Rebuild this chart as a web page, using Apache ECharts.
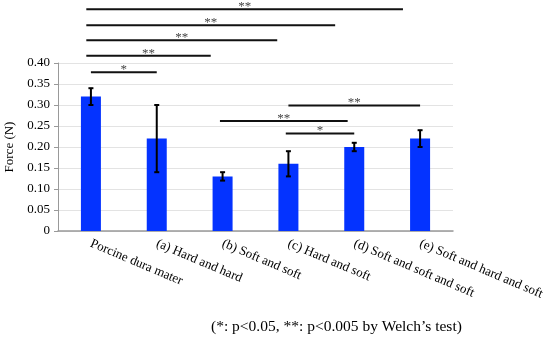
<!DOCTYPE html>
<html>
<head>
<meta charset="utf-8">
<script src="https://cdn.jsdelivr.net/npm/echarts@6/dist/echarts.min.js"></script>
<style>
html,body{margin:0;padding:0;background:#fff;}
#chart{width:550px;height:337px;}
</style>
</head>
<body>
<div id="chart"></div>
<script>
const categories = ['Porcine dura mater', '(a) Hard and hard', '(b) Soft and soft', '(c) Hard and soft', '(d) Soft and soft and soft', '(e) Soft and hard and soft'];
const forces = [0.32, 0.22, 0.13, 0.16, 0.20, 0.22];
const errLow = [0.30, 0.14, 0.12, 0.13, 0.19, 0.20];
const errHigh = [0.34, 0.30, 0.14, 0.19, 0.21, 0.24];
const yMin = 0, yMax = 0.40, yStep = 0.05;
// significance brackets (category index span, height in N, mark)
const bracketFrom = [-0.07, -0.07, -0.07, -0.07, 0, 3, 1.96, 2.96];
const bracketTo = [4.74, 3.71, 2.83, 1.82, 1, 5, 3.9, 4.0];
const bracketLevel = [0.528, 0.490, 0.454, 0.417, 0.378, 0.299, 0.262, 0.232];
const bracketMark = ['**', '**', '**', '**', '*', '**', '**', '*'];
const footnote = '(*: p<0.05, **: p<0.005 by Welch\u2019s test)';

const FONT = 'Liberation Serif';
const chart = echarts.init(document.getElementById('chart'), null, {renderer: 'canvas'});

const errData = categories.map((c, i) => [i, errLow[i], errHigh[i]]);
const brData = bracketFrom.map((f, i) => [f, bracketTo[i], bracketLevel[i], i]);

chart.setOption({
  animation: false,
  title: {
    text: footnote,
    left: 206,
    top: 314,
    textStyle: {fontFamily: FONT, fontSize: 15.5, fontWeight: 'normal', color: '#000'}
  },
  grid: {left: 58, right: 97, top: 63, bottom: 106, containLabel: false, outerBoundsMode: 'none'},
  xAxis: [{
    type: 'category',
    data: categories,
    axisLine: {onZero: false, lineStyle: {color: '#999', width: 1.5}},
    axisTick: {show: false},
    axisLabel: {rotate: -23, margin: 12, interval: 0, fontFamily: FONT, fontSize: 13, color: '#000'}
  }, {
    type: 'value', min: -0.5, max: 5.5, show: false,
    axisLine: {show: false, onZero: false}, axisTick: {show: false}, axisLabel: {show: false}, splitLine: {show: false}
  }],
  yAxis: {
    type: 'value',
    min: yMin, max: yMax, interval: yStep,
    name: 'Force (N)',
    nameLocation: 'middle',
    nameGap: 42,
    nameTextStyle: {fontFamily: FONT, fontSize: 13, color: '#000'},
    axisLine: {show: true, onZero: false, lineStyle: {color: '#999'}},
    axisTick: {show: true, length: 4, lineStyle: {color: '#999'}},
    axisLabel: {fontFamily: FONT, fontSize: 13, color: '#000', margin: 8,
      formatter: v => v === 0 ? '0' : v.toFixed(2)},
    splitLine: {lineStyle: {color: '#e3e3e3'}}
  },
  series: [{
    type: 'bar',
    data: forces,
    barWidth: 20,
    itemStyle: {color: '#0433ff'}
  }, {
    type: 'custom',
    data: errData,
    z: 5,
    renderItem: (params, api) => {
      const x = api.value(0);
      const lo = api.coord([x, api.value(1)]);
      const hi = api.coord([x, api.value(2)]);
      const st = {stroke: '#000', lineWidth: 2};
      return {type: 'group', children: [
        {type: 'line', shape: {x1: lo[0], y1: lo[1], x2: hi[0], y2: hi[1]}, style: st},
        {type: 'line', shape: {x1: lo[0] - 2.5, y1: lo[1], x2: lo[0] + 2.5, y2: lo[1]}, style: st},
        {type: 'line', shape: {x1: hi[0] - 2.5, y1: hi[1], x2: hi[0] + 2.5, y2: hi[1]}, style: st}
      ]};
    }
  }, {
    type: 'custom',
    xAxisIndex: 1,
    data: brData,
    clip: false,
    z: 6,
    renderItem: (params, api) => {
      const a = api.coord([api.value(0), api.value(2)]);
      const b = api.coord([api.value(1), api.value(2)]);
      const mark = bracketMark[api.value(3)];
      return {type: 'group', children: [
        {type: 'line', shape: {x1: a[0], y1: a[1], x2: b[0], y2: b[1]}, style: {stroke: '#111', lineWidth: 2}},
        {type: 'text', x: (a[0] + b[0]) / 2, y: a[1] - 9,
          style: {text: mark, fontFamily: FONT, fontSize: 13, fill: '#444', align: 'center', verticalAlign: 'top'}}
      ]};
    }
  }]
});
</script>
</body>
</html>
